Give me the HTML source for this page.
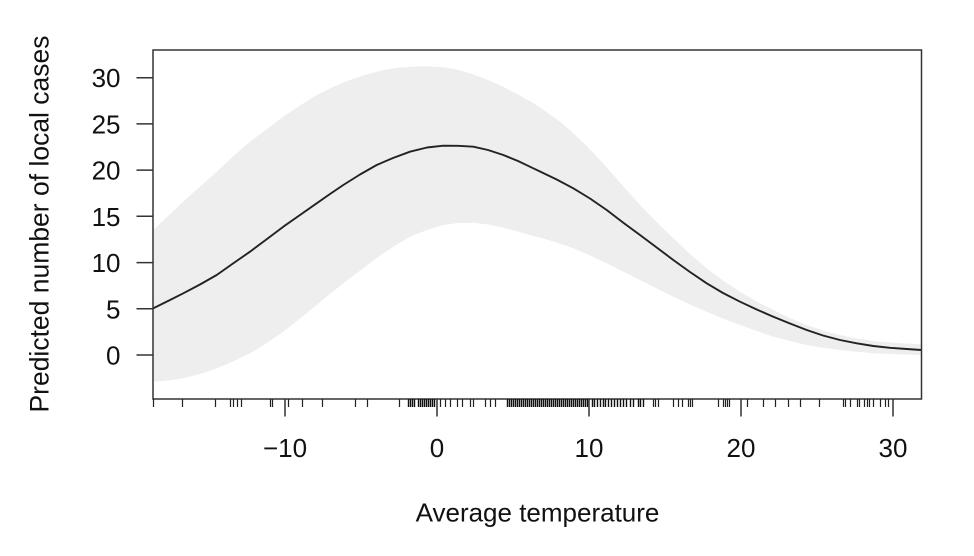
<!DOCTYPE html>
<html>
<head>
<meta charset="utf-8">
<style>
html,body{margin:0;padding:0;background:#fff;}
svg{display:block;}
text{font-family:"Liberation Sans",Arial,sans-serif;fill:#111;}
</style>
</head>
<body>
<svg width="974" height="556" viewBox="0 0 974 556" xmlns="http://www.w3.org/2000/svg">
<defs>
<clipPath id="pc"><rect x="153" y="50" width="768.5" height="349"/></clipPath>
</defs>
<g clip-path="url(#pc)">
<polygon fill="#eeeeee" points="
150,231 153.3,230 168,216 183.3,201.7 200,186.5 216.7,171.7 233,156.5 250,141.7 267,129 283.3,116.7 300,105.5 316.7,95 333,87 350,80 366.7,74.5 383.3,70 400,67.5 416.7,66.5 430,66.5 443.3,67.3 456.7,69.5 470,73.3 487,79.5 503.3,86.7 518,94.5 533.3,103 545,111 560,121.5 573,133 586.7,146 600,160 613.3,175 626.7,190 640,205 656.7,222 673.3,238.3 690,254 706.7,268.3 723,280.5 740,291.7 756.7,301.5 773.3,310 790,318 806.7,325 823,330.5 840,335 856.7,338.5 873.3,341 897,343 921.5,344.3 925,344.5
925,355.1 921.5,355 897,354.3 873.3,353.3 856.7,351.8 840,350 823,347.8 806.7,345 790,341 773.3,336.7 756.7,331 740,325 723,318.5 706.7,311.7 690,304.5 673.3,296.7 656.7,288.5 640,280 623,271.5 606.7,263.3 590,255.5 573.3,248.3 556.7,242.5 540,237.5 533.3,236 518,231.5 503.3,227.7 488,224.5 473.3,222.7 458,223 443.3,225 427,230 410,236.7 396,245 383.3,253.3 366.7,265.5 350,278.3 333,291.5 316.7,305 300,318.5 283.3,331.7 267,343 250,353.3 233,361.5 216.7,368.3 200,374 183.3,378.3 168,380.5 153.3,381.7 150,381.8"/>
<polyline fill="none" stroke="#222" stroke-width="1.9" stroke-linejoin="round" points="
150,309.6 153.3,308.3 168,301 183.3,293.3 200,284.5 216.7,275 233,263.5 250,251.7 267,239 283.3,226.7 300,215 316.7,203.3 330,194 343.3,185 360,174.5 376.7,165 393,158 410,151.7 427,147.5 443.3,145.7 458,145.8 473.3,146.7 488,150 503.3,155 518,161 533.3,168.3 540,171.5 556.7,179.5 573.3,188.3 590,198.5 606.7,210 623,222.5 640,235 656.7,247.5 673.3,260 690,272 706.7,283.3 723,293 740,301.7 756.7,309.5 773.3,316.7 790,323.5 806.7,330 823,335.5 840,340 856.7,343.3 873.3,346 890,347.8 906.7,349 921.5,350 925,350.2"/>
</g>
<!-- frame -->
<rect x="153" y="50" width="768.5" height="349" fill="none" stroke="#333" stroke-width="1.5"/>
<!-- y axis ticks -->
<g stroke="#333" stroke-width="1.5">
<line x1="136.5" y1="355" x2="153" y2="355"/>
<line x1="136.5" y1="308.8" x2="153" y2="308.8"/>
<line x1="136.5" y1="262.6" x2="153" y2="262.6"/>
<line x1="136.5" y1="216.3" x2="153" y2="216.3"/>
<line x1="136.5" y1="170.1" x2="153" y2="170.1"/>
<line x1="136.5" y1="123.9" x2="153" y2="123.9"/>
<line x1="136.5" y1="77.7" x2="153" y2="77.7"/>
</g>
<g font-size="26" text-anchor="end">
<text x="120.5" y="364.5">0</text>
<text x="120.5" y="318.3">5</text>
<text x="120.5" y="272.1">10</text>
<text x="120.5" y="225.8">15</text>
<text x="120.5" y="179.6">20</text>
<text x="120.5" y="133.4">25</text>
<text x="120.5" y="87.2">30</text>
</g>
<!-- x axis major ticks -->
<g stroke="#333" stroke-width="1.5">
<line x1="285" y1="399" x2="285" y2="416.5"/>
<line x1="437" y1="399" x2="437" y2="416.5"/>
<line x1="589" y1="399" x2="589" y2="416.5"/>
<line x1="741" y1="399" x2="741" y2="416.5"/>
<line x1="893" y1="399" x2="893" y2="416.5"/>
</g>
<!-- rug sparse -->
<path stroke="#222" stroke-width="1.2" fill="none" d="
M153.5,399v8 M182.5,399v8 M215.5,399v8 M230.5,399v8 M233.5,399v8 M237.5,399v8 M241.5,399v8 M270.5,399v8 M272.5,399v8 M288.5,399v8 M302.5,399v8 M322.5,399v8 M355.5,399v8 M367.5,399v8 M399.5,399v8
M440.5,399v8 M445.5,399v8 M450.5,399v8 M457.5,399v8 M462.5,399v8 M470.5,399v8 M473.5,399v8 M485.5,399v8 M490.5,399v8 M495.5,399v8
M653.5,399v8 M655.5,399v8 M658.5,399v8
M673.5,399v8 M678.5,399v8 M682.5,399v8 M688.5,399v8 M690.5,399v8 M692.5,399v8 M718.5,399v8 M723.5,399v8 M725.5,399v8 M727.5,399v8 M729.5,399v8 M747.5,399v8 M763.5,399v8 M775.5,399v8 M788.5,399v8 M800.5,399v8 M819.5,399v8
M843.5,399v8 M845.5,399v8 M850.5,399v8 M857.5,399v8 M859.5,399v8 M864.5,399v8 M867.5,399v8 M869.5,399v8 M873.5,399v8 M880.5,399v8 M885.5,399v8 M888.5,399v8"/>
<!-- rug dense -->
<path stroke="#111" stroke-width="1.4" fill="none" d="
M408.5,399v8 M410.5,399v8 M412.5,399v8 M414.5,399v8
M418.5,399v8 M420.5,399v8 M422.5,399v8 M424.5,399v8 M426.5,399v8 M428.5,399v8 M430.5,399v8 M432.5,399v8 M434.5,399v8
M507.5,399v8 M509.5,399v8 M511.5,399v8 M513.5,399v8 M515.5,399v8 M517.5,399v8 M519.5,399v8 M521.5,399v8 M523.5,399v8 M525.5,399v8 M527.5,399v8 M529.5,399v8 M531.5,399v8 M533.5,399v8 M535.5,399v8 M537.5,399v8 M539.5,399v8 M541.5,399v8 M543.5,399v8 M545.5,399v8 M547.5,399v8 M549.5,399v8 M551.5,399v8 M553.5,399v8 M555.5,399v8 M557.5,399v8 M559.5,399v8 M561.5,399v8 M563.5,399v8 M565.5,399v8 M567.5,399v8 M569.5,399v8 M571.5,399v8 M573.5,399v8 M575.5,399v8 M577.5,399v8 M579.5,399v8 M581.5,399v8 M583.5,399v8 M585.5,399v8 M587.5,399v8
M592.5,399v8 M594.5,399v8 M597.5,399v8 M600.5,399v8 M603.5,399v8 M605.5,399v8 M608.5,399v8 M611.5,399v8 M614.5,399v8 M617.5,399v8 M620.5,399v8 M623.5,399v8 M626.5,399v8 M630.5,399v8 M633.5,399v8 M638.5,399v8 M640.5,399v8 M643.5,399v8"/>
<g font-size="26" text-anchor="middle">
<text x="285" y="457">−10</text>
<text x="437" y="457">0</text>
<text x="589" y="457">10</text>
<text x="741" y="457">20</text>
<text x="893" y="457">30</text>
</g>
<text x="537.5" y="521.5" font-size="26" text-anchor="middle">Average temperature</text>
<text transform="translate(48.5,224) rotate(-90)" x="0" y="0" font-size="26.5" text-anchor="middle">Predicted number of local cases</text>
</svg>
</body>
</html>
